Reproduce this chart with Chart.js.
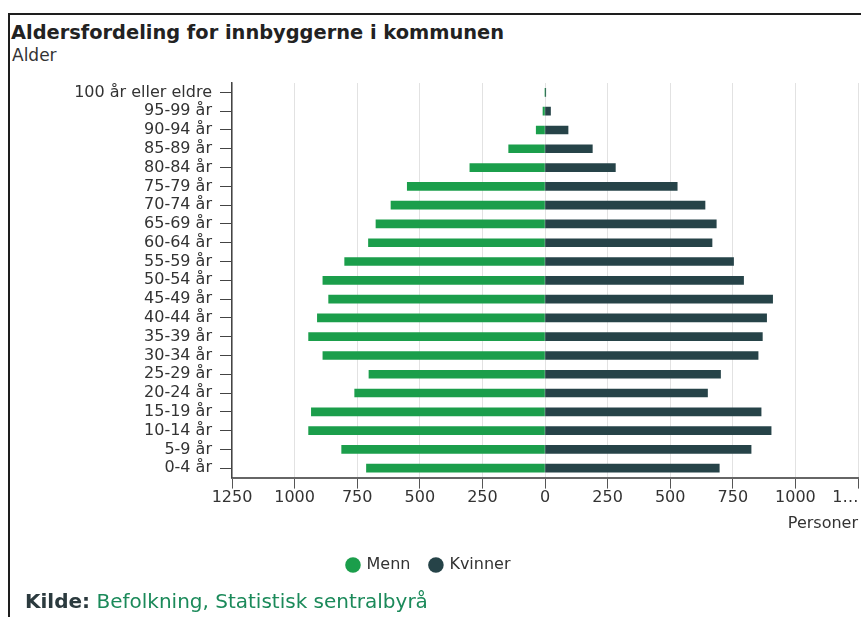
<!DOCTYPE html>
<html>
<head>
<meta charset="utf-8">
<style>
  body { margin: 0; background: #fff; font-family: "DejaVu Sans", sans-serif; }
  #frame { position: absolute; left: 8px; top: 13px; width: 900px; height: 700px; border: 2px solid #1e1e1e; border-right: none; border-bottom: none; }
  #title { position: absolute; left: 11px; top: 23px; line-height: 1; font-size: 19.4px; font-weight: bold; color: #222; }
  #sub { position: absolute; left: 12px; top: 47px; line-height: 1; font-size: 17px; color: #333; }
  #source { position: absolute; left: 25px; top: 591px; line-height: 1; font-size: 20px; color: #1b8a5a; }
  #source b { color: #2b3a3e; }
  #wrap { position: absolute; left: 0; top: 75px; width: 861px; height: 520px; }
</style>
</head>
<body>
<div id="frame"></div>
<div id="title">Aldersfordeling for innbyggerne i kommunen</div>
<div id="sub">Alder</div>
<div id="wrap"><canvas id="pyramid"></canvas></div>
<div id="source"><b>Kilde:</b> Befolkning, Statistisk sentralbyrå</div>

<script src="https://cdn.jsdelivr.net/npm/chart.js"></script>
<script>
// age groups, top to bottom
const ageGroups = ['100 år eller eldre', '95-99 år', '90-94 år', '85-89 år', '80-84 år',
  '75-79 år', '70-74 år', '65-69 år', '60-64 år', '55-59 år', '50-54 år', '45-49 år',
  '40-44 år', '35-39 år', '30-34 år', '25-29 år', '20-24 år', '15-19 år', '10-14 år',
  '5-9 år', '0-4 år'];

const menn = [0, 8, 35, 145, 300, 550, 615, 675, 705, 800, 887, 864, 909, 944, 887, 703, 760, 933, 944, 812, 713];
const kvinner = [3, 22, 92, 189, 281, 528, 639, 684, 667, 753, 793, 909, 885, 868, 851, 701, 649, 863, 903, 823, 696];

const xTickValues = [-1250, -1000, -750, -500, -250, 0, 250, 500, 750, 1000, 1250];
// last label is cut off in the original, trailing spaces push it left of the tick
const xTickLabels = ['1250', '1000', '750', '500', '250', '0', '250', '500', '750', '1000', '1…     '];

const axisFont = { family: 'DejaVu Sans', size: 16 };

const ctx = document.getElementById('pyramid').getContext('2d');

const chart = new Chart(ctx, {
    type: 'bar',
    data: {
        labels: ageGroups,
        datasets: [{
            label: 'Menn',
            data: menn.map(v => -v),
            backgroundColor: '#1b9e4b',
            barThickness: 8
        }, {
            label: 'Kvinner',
            data: kvinner,
            backgroundColor: '#264348',
            barThickness: 8
        }]
    },
    options: {
        indexAxis: 'y',
        responsive: true,
        maintainAspectRatio: false,
        animation: false,
        layout: { padding: { top: 8, right: 3, bottom: 12, left: 0 } },
        plugins: {
            tooltip: { enabled: false },
            legend: {
                position: 'bottom',
                labels: {
                    usePointStyle: true,
                    pointStyle: 'circle',
                    boxHeight: 11,
                    boxWidth: 11,
                    padding: 20,
                    color: '#333',
                    font: axisFont
                }
            }
        },
        scales: {
            x: {
                stacked: true,
                min: -1250,
                max: 1250,
                afterBuildTicks: axis => {
                    axis.ticks = xTickValues.map(v => ({ value: v }));
                },
                afterFit: axis => {
                    axis.paddingLeft = 0;
                    axis.paddingRight = 0;
                },
                ticks: {
                    autoSkip: false,
                    maxRotation: 0,
                    padding: 0,
                    color: '#333',
                    font: axisFont,
                    callback: (val, i) => xTickLabels[i]
                },
                grid: {
                    color: '#e2e2e2',
                    tickColor: '#555',
                    tickLength: 11
                },
                border: { color: '#666', width: 2 },
                title: {
                    display: true,
                    text: 'Personer',
                    align: 'end',
                    color: '#333',
                    font: axisFont,
                    padding: { top: 6, bottom: 4 }
                }
            },
            y: {
                stacked: true,
                afterFit: axis => {
                    axis.width = 232;
                    axis.paddingTop = 0;
                    axis.paddingBottom = 0;
                },
                ticks: {
                    autoSkip: false,
                    padding: 8,
                    color: '#333',
                    font: axisFont
                },
                grid: {
                    offset: false,
                    drawOnChartArea: false,
                    color: '#444',
                    tickLength: 12
                },
                border: { color: '#444', width: 1.5 }
            }
        }
    }
});
</script>
</body>
</html>
